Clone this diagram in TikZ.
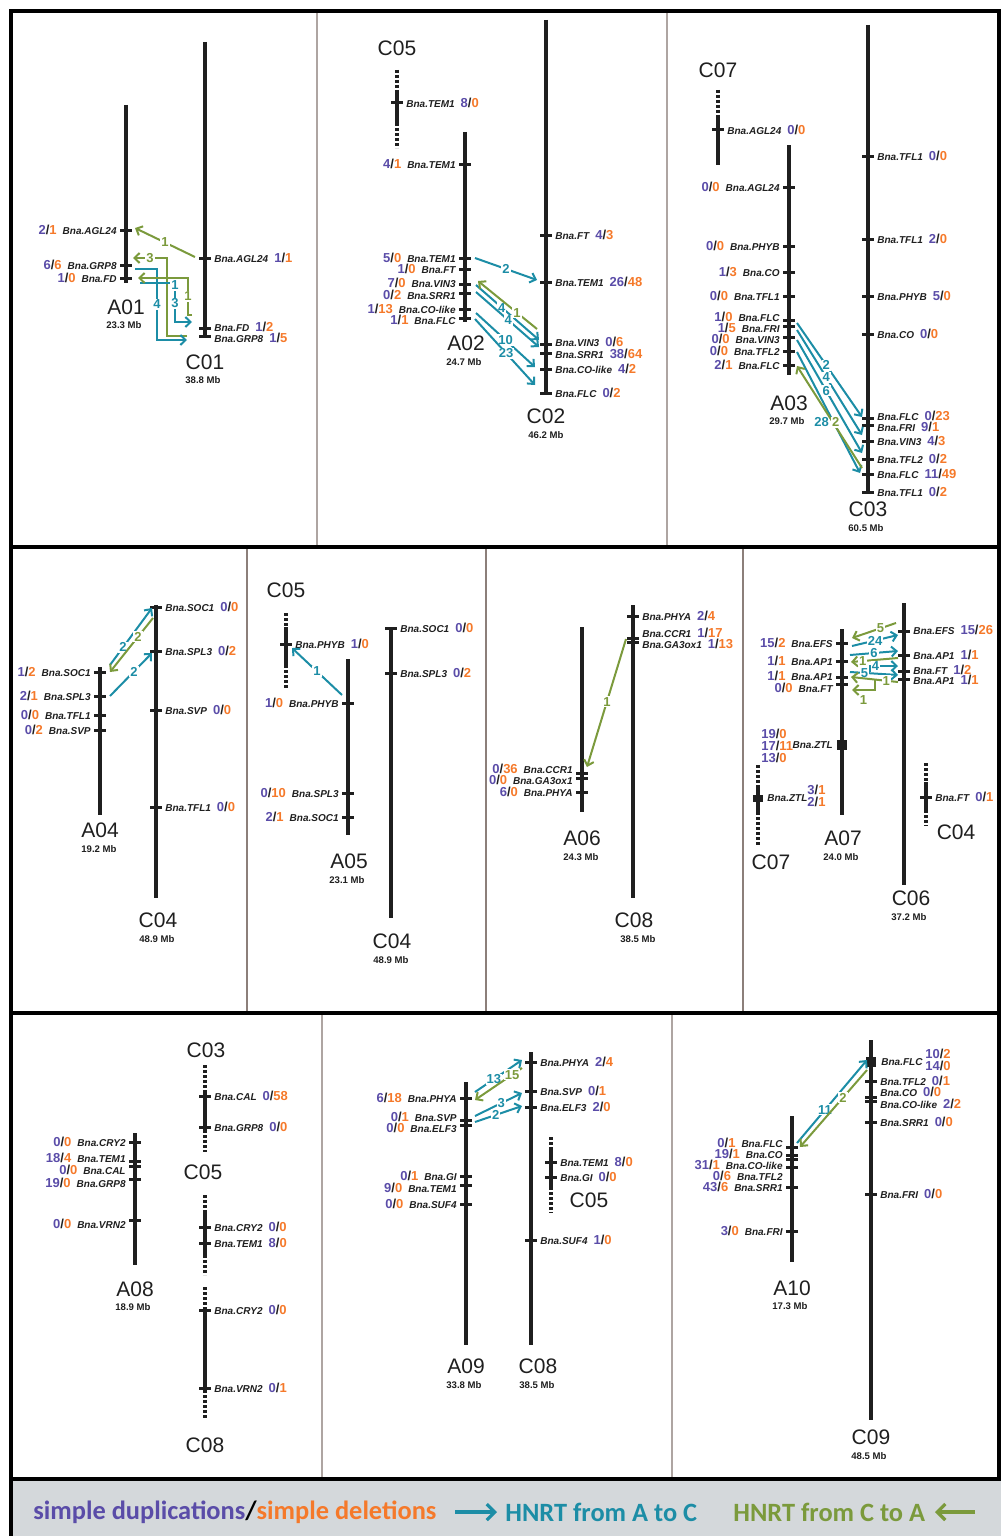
\documentclass[tikz,border=0pt]{standalone}
\usepackage{fontspec}
\setmainfont{Liberation Sans}
\newfontfamily\lgdfont{Carlito}
\usetikzlibrary{calc,arrows.meta}
\definecolor{dup}{HTML}{5A4CA8}
\definecolor{del}{HTML}{F5792A}
\definecolor{atoc}{HTML}{1C8DA6}
\definecolor{ctoa}{HTML}{7B9A3C}
\definecolor{ink}{HTML}{1F1F1F}
\definecolor{lgdbg}{HTML}{D4D8DB}
\definecolor{sep}{HTML}{8C7F7A}
\newcommand\genefont{\fontsize{5}{6}\selectfont\bfseries\itshape}
\newcommand\cntfont{\fontsize{6.5}{7}\selectfont\bfseries\upshape}
\newcommand\cnts[2]{{\cntfont\textcolor{dup}{#1}\textcolor{ink}{/}\textcolor{del}{#2}}}
\newcommand\gL[7][0]{\node[tick] (#2) at (#3,#4) {}; \node[lbl, anchor=east] (#2t) at ($(#2)+(-9,#1)$) {\cnts{#5}{#6}\hspace{3pt}Bna.#7};}
\newcommand\gR[7][0]{\node[tick] (#2) at (#3,#4) {}; \node[lbl, anchor=west] (#2t) at ($(#2)+(9,#1)$) {Bna.#7\hspace{3pt}\cnts{#5}{#6}};}

\begin{document}
\begin{tikzpicture}[x=0.5pt, y=-0.5pt,
  chr/.style={line width=2pt, draw=ink}, frag/.style={line width=2pt, draw=ink, dash pattern=on 1.3pt off 1.2pt},
  tick/.style={fill=ink, inner sep=0pt, minimum width=6pt, minimum height=1.5pt},
  blk/.style={fill=ink, inner sep=0pt, minimum width=5pt, minimum height=5pt},
  lbl/.style={font=\genefont, text=ink, inner sep=0pt},
  cname/.style={font=\fontsize{10.5}{12}\selectfont, text=ink, inner sep=0pt},
  mb/.style={font=\fontsize{4.8}{6}\selectfont\bfseries, text=ink, inner sep=0pt},
  ac/.style={draw=atoc, line width=1pt, -{Straight Barb[length=2.6pt,width=5pt]}},
  ca/.style={draw=ctoa, line width=1pt, -{Straight Barb[length=2.6pt,width=5pt]}},
  num/.style={fill=white, inner sep=0.5pt, font=\fontsize{6.5}{6.2}\selectfont\bfseries},
  anum/.style={num, text=atoc}, cnum/.style={num, text=ctoa},
  frame/.style={line width=2pt, draw=black},
  lgd/.style={font=\lgdfont\fontsize{13.2}{15}\selectfont\bfseries, inner sep=0pt}]
\useasboundingbox (0,0) rectangle (1001,1536);
\fill[lgdbg] (11,1479) rectangle (1001,1536);
\draw[sep!70, line width=1pt] (317,11) -- (317,546) (667,11) -- (667,546) (322,1013) -- (322,1479) (672,1013) -- (672,1479);
\draw[sep, line width=1pt] (247,546) -- (247,1013) (486,546) -- (486,1013) (743,546) -- (743,1013);
\draw[frame] (11,11) rectangle (999,1479); \draw[frame] (11,546.5) -- (999,546.5) (11,1013) -- (999,1013) (11,1479) -- (11,1536);

% A01 / C01
\draw[chr] (126,105) -- (126,283); \gL{a1agl}{126}{230}{2}{1}{AGL24} \gL{a1grp}{126}{265}{6}{6}{GRP8} \gL{a1fd}{126}{278}{1}{0}{FD}
\node[cname] (a01) at (126,307) {A01}; \node[mb] (a01mb) at (124,325) {23.3 Mb};
\draw[chr] (205,42) -- (205,338); \gR{c1agl}{205}{258}{1}{1}{AGL24} \gR[-1]{c1fd}{205}{328}{1}{2}{FD} \gR[2]{c1grp}{205}{336}{1}{5}{GRP8}
\node[cname] (c01) at (205,362) {C01}; \node[mb] (c01mb) at (203,380) {38.8 Mb};
\draw[ca] ($(c1agl)+(-10,-1)$) -- ($(a1agl)+(9,-2)$) node[cnum, midway] (n1a) {1};
\draw[ca] ($(c1grp)+(-18,0)$) -| ($(a1grp)+(41,-7)$) -- ($(a1grp)+(7,-7)$) node[cnum, midway] (n1b) {3};
\draw[ac] ($(a1grp)+(9,4)$) -- ++(22,0) |- ($(c1grp)+(-18,4)$) node[anum, pos=0.25] (n1c) {4};
\draw[ac] ($(a1fd)+(14,5)$) -| ($(c1fd)+(-30,-6)$) node[anum, pos=0.53] (n1d) {1} node[anum, pos=0.76] (n1dd) {3} -- ($(c1fd)+(-13,-6)$);
\draw[ca] ($(c1fd)+(-13,-13)$) -- ++(-4,0) |- ($(a1fd)+(12,0)$) node[cnum, pos=0.25] (n1e) {1};

% A02 / C02
\draw[frag] (397,70) -- (397,93); \draw[chr] (397,93) -- (397,123); \draw[frag] (397,123) -- (397,148); \gR{c5tem}{397}{103}{8}{0}{TEM1} \node[cname] (c05a) at (397,48) {C05};
\draw[chr] (465,132) -- (465,322); \gL{a2tema}{465}{164}{4}{1}{TEM1} \gL{a2temb}{465}{258}{5}{0}{TEM1} \gL{a2ft}{465}{269}{1}{0}{FT} \gL[-1]{a2vin}{465}{284}{7}{0}{VIN3} \gL[2]{a2srr}{465}{293}{0}{2}{SRR1} \gL{a2col}{465}{309}{1}{13}{CO-like} \gL[2]{a2flc}{465}{318}{1}{1}{FLC}
\node[cname] (a02) at (466,343) {A02}; \node[mb] (a02mb) at (464,362) {24.7 Mb};
\draw[chr] (546,20) -- (546,395); \gR{c2ft}{546}{235}{4}{3}{FT} \gR{c2tem}{546}{282}{26}{48}{TEM1} \gR[-2]{c2vin}{546}{344}{0}{6}{VIN3} \gR[1]{c2srr}{546}{353}{38}{64}{SRR1} \gR{c2col}{546}{369}{4}{2}{CO-like} \gR{c2flc}{546}{393}{0}{2}{FLC}
\node[cname] (c02) at (546,416) {C02}; \node[mb] (c02mb) at (546,435) {46.2 Mb};
\draw[ac] ($(a2temb)+(10,0)$) -- ($(c2tem)+(-9,-2)$) node[anum, midway] (n2a) {2};
\draw[ac] ($(a2vin)+(11,1)$) -- ($(c2vin)+(-7,-4)$) node[anum, pos=0.41] (n2b) {4};
\draw[ac] ($(a2srr)+(11,-1)$) -- ($(c2srr)+(-7,-6)$) node[anum, pos=0.51] (n2c) {4};
\draw[ca] ($(c2vin)+(-9,-15)$) -- ($(a2vin)+(13,-3)$) node[cnum, pos=0.34] (n2d) {1};
\draw[ac] ($(a2col)+(11,4)$) -- ($(c2col)+(-11,-2)$) node[anum, midway] (n2e) {10};
\draw[ac] ($(a2flc)+(10,1)$) -- ($(c2flc)+(-11,-8)$) node[anum, pos=0.52] (n2f) {23};

% A03 / C03
\draw[frag] (718,90) -- (718,118); \draw[chr] (718,118) -- (718,165); \gR{c7agl}{718}{130}{0}{0}{AGL24} \node[cname] (c07a) at (718,70) {C07};
\draw[chr] (789,145) -- (789,375); \gL{a3agl}{789}{187}{0}{0}{AGL24} \gL{a3phyb}{789}{246}{0}{0}{PHYB} \gL{a3co}{789}{272}{1}{3}{CO} \gL{a3tfl}{789}{296}{0}{0}{TFL1} \gL[-3]{a3flca}{789}{320}{1}{0}{FLC} \gL[2]{a3fri}{789}{326}{1}{5}{FRI} \gL[2]{a3vin}{789}{337}{0}{0}{VIN3} \gL{a3tfl2}{789}{351}{0}{0}{TFL2} \gL{a3flcb}{789}{365}{2}{1}{FLC}
\node[cname] (a03) at (789,403) {A03}; \node[mb] (a03mb) at (787,421) {29.7 Mb};
\draw[chr] (868,25) -- (868,492); \gR{c3tfa}{868}{156}{0}{0}{TFL1} \gR{c3tfb}{868}{239}{2}{0}{TFL1} \gR{c3phyb}{868}{296}{5}{0}{PHYB} \gR{c3co}{868}{334}{0}{0}{CO} \gR[-2]{c3flca}{868}{418}{0}{23}{FLC} \gR[2]{c3fri}{868}{425}{9}{1}{FRI} \gR{c3vin}{868}{441}{4}{3}{VIN3} \gR{c3tfl2}{868}{459}{0}{2}{TFL2} \gR{c3flcb}{868}{474}{11}{49}{FLC} \gR{c3tfc}{868}{492}{0}{2}{TFL1}
\node[cname] (c03) at (868,509) {C03}; \node[mb] (c03mb) at (866,528) {60.5 Mb};
\draw[ac] ($(a3flca)+(8,3)$) -- ($(c3flca)+(-6,-1)$) node[anum, pos=0.45] (n3a) {2};
\draw[ac] ($(a3fri)+(8,4)$) -- ($(c3vin)+(-6,-6)$) node[anum, pos=0.45] (n3b) {4};
\draw[ac] ($(a3vin)+(8,3)$) -- ($(c3tfl2)+(-6,-6)$) node[anum, pos=0.45] (n3c) {6};
\draw[ac] ($(a3tfl2)+(8,1)$) -- ($(c3flcb)+(-8,-1)$) node[anum, pos=0.58, xshift=-6pt] (n3d) {28};
\draw[ca] ($(c3flcb)+(-6,-6)$) -- ($(a3flcb)+(8,1)$) node[cnum, pos=0.45, xshift=1.5pt] (n3e) {2};

% A04 / C04
\draw[chr] (100,667) -- (100,815); \gL{a4soc}{100}{672}{1}{2}{SOC1} \gL{a4spl}{100}{696}{2}{1}{SPL3} \gL{a4tfl}{100}{715}{0}{0}{TFL1} \gL{a4svp}{100}{730}{0}{2}{SVP}
\node[cname] (a04) at (100,830) {A04}; \node[mb] (a04mb) at (99,849) {19.2 Mb};
\draw[chr] (156,605) -- (156,898); \gR{c4soc}{156}{607}{0}{0}{SOC1} \gR{c4spl}{156}{651}{0}{2}{SPL3} \gR{c4svp}{156}{710}{0}{0}{SVP} \gR{c4tfl}{156}{807}{0}{0}{TFL1}
\node[cname] (c04a) at (158,920) {C04}; \node[mb] (c04amb) at (157,939) {48.9 Mb};
\draw[ac] ($(a4soc)+(10,-7)$) -- ($(c4soc)+(-4,1)$) node[anum, pos=0.31] (n4a) {2};
\draw[ca] ($(c4soc)+(-3,11)$) -- ($(a4soc)+(10,0)$) node[cnum, pos=0.35] (n4b) {2};
\draw[ac] ($(a4spl)+(10,0)$) -- ($(c4spl)+(-4,2)$) node[anum, pos=0.57] (n4c) {2};

% A05 / C04
\draw[frag] (286,613) -- (286,627); \draw[chr] (286,627) -- (286,665); \draw[frag] (286,665) -- (286,689); \gR{c5phyb}{286}{644}{1}{0}{PHYB} \node[cname] (c05b) at (286,590) {C05};
\draw[chr] (348,659) -- (348,835); \gL{a5phyb}{348}{703}{1}{0}{PHYB} \gL{a5spl}{348}{793}{0}{10}{SPL3} \gL{a5soc}{348}{817}{2}{1}{SOC1}
\node[cname] (a05) at (349,861) {A05}; \node[mb] (a05mb) at (347,880) {23.1 Mb};
\draw[chr] (391,627) -- (391,918); \gR{c4bsoc}{391}{628}{0}{0}{SOC1} \gR{c4bspl}{391}{673}{0}{2}{SPL3}
\node[cname] (c04b) at (392,941) {C04}; \node[mb] (c04bmb) at (391,960) {48.9 Mb};
\draw[ac] ($(a5phyb)+(-6,-8)$) -- ($(c5phyb)+(6,4)$) node[anum, midway] (n5a) {1};

% A06 / C08
\draw[chr] (582,627) -- (582,812); \gL[-4]{a6ccr}{582}{773}{0}{36}{CCR1} \gL[2]{a6ga}{582}{778}{0}{0}{GA3ox1} \gL{a6phya}{582}{792}{6}{0}{PHYA}
\node[cname] (a06) at (582,838) {A06}; \node[mb] (a06mb) at (581,857) {24.3 Mb};
\draw[chr] (633,605) -- (633,898); \gR{c8phya}{633}{616}{2}{4}{PHYA} \gR[-5]{c8ccr}{633}{638}{1}{17}{CCR1} \gR[2]{c8ga}{633}{642}{1}{13}{GA3ox1}
\node[cname] (c08a) at (634,920) {C08}; \node[mb] (c08amb) at (638,939) {38.5 Mb};
\draw[ca] ($(c8ccr)+(-7,1)$) -- ($(a6ccr)+(5,-6)$) node[cnum, pos=0.49] (n6a) {1};

% A07 / C06
\draw[chr] (842,629) -- (842,815); \gL{a7efs}{842}{643}{15}{2}{EFS} \gL{a7apa}{842}{661}{1}{1}{AP1} \gL[-1]{a7apb}{842}{677}{1}{1}{AP1} \gL[4]{a7ft}{842}{684}{0}{0}{FT}
\node[blk] (a7ztl) at (842,745) {}; \node[lbl, anchor=east] (a7ztlt) at ($(a7ztl)+(-9,0)$) {Bna.ZTL};
\node[lbl, anchor=west, align=left] (a7ztlc) at (761,746) {\cnts{19}{0}\\\cnts{17}{11}\\\cnts{13}{0}};
\node[cname] (a07) at (843,838) {A07}; \node[mb] (a07mb) at (841,857) {24.0 Mb};
\draw[chr] (904,603) -- (904,885); \gR[-1]{c6efs}{904}{631}{15}{26}{EFS} \gR{c6apa}{904}{655}{1}{1}{AP1} \gR[-1]{c6ft}{904}{671}{1}{2}{FT} \gR[1]{c6apb}{904}{679}{1}{1}{AP1}
\node[cname] (c06) at (911,898) {C06}; \node[mb] (c06mb) at (909,917) {37.2 Mb};
\draw[frag] (758,765) -- (758,785); \draw[chr] (758,785) -- (758,812); \draw[frag] (758,812) -- (758,845);
\node[blk, minimum height=3.5pt] (c7ztl) at (758,798) {}; \node[lbl, anchor=west] (c7ztlt) at ($(c7ztl)+(9,0)$) {Bna.ZTL};
\node[lbl, anchor=west, align=left] (c7ztlc) at (807,796) {\cnts{3}{1}\\\cnts{2}{1}}; \node[cname] (c07b) at (771,862) {C07};
\draw[frag] (926,763) -- (926,782); \draw[chr] (926,782) -- (926,810); \draw[frag] (926,810) -- (926,826); \gR{c4cft}{926}{797}{0}{1}{FT} \node[cname] (c04c) at (956,832) {C04};
\draw[ca] ($(c6efs)+(-8,-8)$) -- ($(a7efs)+(10,-5)$) node[cnum, pos=0.35] (n7a) {5};
\draw[ac] ($(a7efs)+(10,3)$) -- ($(c6efs)+(-6,4)$) node[anum, pos=0.5] (n7b) {24};
\draw[ac] ($(a7apa)+(8,-6)$) -- ($(c6apa)+(-6,-4)$) node[anum, midway] (n7c) {6};
\draw[ca] ($(c6apa)+(-6,3)$) -- ($(a7apa)+(9,1)$) node[cnum, pos=0.75] (n7d) {1};
\draw[ac] ($(a7apb)+(8,-5)$) -- ($(c6ft)+(-6,4)$) node[anum, pos=0.3] (n7e) {5};
\draw[ac] ($(a7apb)+(28,-5)$) |- ($(c6apa)+(-20,11)$) node[anum, pos=0.7] (n7f) {4} -- ($(c6apa)+(-6,11)$);
\draw[ca] ($(c6apb)+(-6,3)$) -- ($(a7apb)+(9,0)$) node[cnum, pos=0.25] (n7g) {1};
\draw[ca] ($(a7ft)+(33,-4)$) |- ($(a7ft)+(10,6)$) node[cnum, pos=0.75, yshift=-5pt] (n7h) {1};

% A08 / C03, C05, C08
\draw[chr] (135,1133) -- (135,1265); \gL{a8cry}{135}{1142}{0}{0}{CRY2} \gL[-3]{a8tem}{135}{1161}{18}{4}{TEM1} \gL[4]{a8cal}{135}{1166}{0}{0}{CAL} \gL[4]{a8grp}{135}{1179}{19}{0}{GRP8} \gL[4]{a8vrn}{135}{1220}{0}{0}{VRN2}
\node[cname] (a08) at (135,1289) {A08}; \node[mb] (a08mb) at (133,1307) {18.9 Mb};
\draw[frag] (205,1065) -- (205,1092); \draw[chr] (205,1092) -- (205,1130); \draw[frag] (205,1130) -- (205,1152); \gR{c3cal}{205}{1096}{0}{58}{CAL} \gR{c3grp}{205}{1127}{0}{0}{GRP8}
\node[cname] (c03b) at (206,1050) {C03}; \node[cname] (c05c) at (203,1172) {C05};
\draw[frag] (205,1195) -- (205,1213); \draw[chr] (205,1213) -- (205,1255); \draw[frag] (205,1255) -- (205,1275); \gR{c5cry}{205}{1227}{0}{0}{CRY2} \gR{c5temc}{205}{1243}{8}{0}{TEM1}
\draw[frag] (205,1287) -- (205,1307); \draw[chr] (205,1307) -- (205,1390); \draw[frag] (205,1390) -- (205,1418); \gR{c8cry}{205}{1310}{0}{0}{CRY2} \gR{c8vrn}{205}{1388}{0}{1}{VRN2}
\node[cname] (c08b) at (205,1445) {C08};

% A09 / C08
\draw[chr] (466,1082) -- (466,1345); \gL{a9phya}{466}{1098}{6}{18}{PHYA} \gL[-3]{a9svp}{466}{1120}{0}{1}{SVP} \gL[3]{a9elf}{466}{1125}{0}{0}{ELF3} \gL{a9gi}{466}{1176}{0}{1}{GI} \gL[3]{a9tem}{466}{1185}{9}{0}{TEM1} \gL{a9suf}{466}{1204}{0}{0}{SUF4}
\node[cname] (a09) at (466,1366) {A09}; \node[mb] (a09mb) at (464,1385) {33.8 Mb};
\draw[chr] (531,1052) -- (531,1345); \gR{c8bphya}{531}{1062}{2}{4}{PHYA} \gR{c8bsvp}{531}{1091}{0}{1}{SVP} \gR{c8belf}{531}{1107}{2}{0}{ELF3} \gR{c8bsuf}{531}{1240}{1}{0}{SUF4}
\node[cname] (c08c) at (538,1366) {C08}; \node[mb] (c08cmb) at (537,1385) {38.5 Mb};
\draw[frag] (551,1137) -- (551,1150); \draw[chr] (551,1150) -- (551,1187); \draw[frag] (551,1187) -- (551,1213); \gR{c5gtem}{551}{1162}{8}{0}{TEM1} \gR{c5ggi}{551}{1177}{0}{0}{GI}
\node[cname] (c05d) at (589,1200) {C05};
\draw[ac] ($(a9phya)+(9,-6)$) -- ($(c8bphya)+(-9,-2)$) node[anum, pos=0.4] (n9a) {13};
\draw[ca] ($(c8bphya)+(-9,6)$) -- ($(a9phya)+(9,2)$) node[cnum, pos=0.21] (n9b) {15};
\draw[ac] ($(a9svp)+(9,-4)$) -- ($(c8bsvp)+(-9,2)$) node[anum, pos=0.56] (n9c) {3};
\draw[ac] ($(a9elf)+(9,-3)$) -- ($(c8belf)+(-9,-1)$) node[anum, pos=0.44] (n9d) {2};

% A10 / C09
\draw[chr] (792,1116) -- (792,1262); \gL[-4]{a10flc}{792}{1147}{0}{1}{FLC} \gL[-1]{a10co}{792}{1155}{19}{1}{CO} \node[tick] (a10cob) at (792,1159) {}; \gL[-2]{a10col}{792}{1167}{31}{1}{CO-like}
\node[lbl, anchor=east] (a10tflt) at (783,1176) {\cnts{0}{6}\hspace{3pt}Bna.TFL2}; \gL{a10srr}{792}{1187}{43}{6}{SRR1} \gL{a10fri}{792}{1231}{3}{0}{FRI}
\node[cname] (a10) at (792,1288) {A10}; \node[mb] (a10mb) at (790,1306) {17.3 Mb};
\draw[chr] (871,1040) -- (871,1420); \node[blk] (c9flc) at (871,1062) {}; \node[lbl, anchor=west] (c9flct) at ($(c9flc)+(10,0)$) {Bna.FLC};
\node[lbl, anchor=west, align=left] (c9flcc) at (925,1060) {\cnts{10}{2}\\\cnts{14}{0}};
\gR{c9tfl}{871}{1081}{0}{1}{TFL2} \gR[-5]{c9co}{871}{1097}{0}{0}{CO} \gR[3]{c9col}{871}{1101}{2}{2}{CO-like} \gR{c9srr}{871}{1122}{0}{0}{SRR1} \gR{c9fri}{871}{1194}{0}{0}{FRI}
\node[cname] (c09) at (871,1437) {C09}; \node[mb] (c09mb) at (869,1456) {48.5 Mb};
\draw[ac] ($(a10flc)+(5,-4)$) -- ($(c9flc)+(-4,-2)$) node[anum, pos=0.4] (n10a) {11};
\draw[ca] ($(c9flc)+(-4,8)$) -- ($(a10flc)+(8,0)$) node[cnum, pos=0.36] (n10b) {2};

% legend
\node[lgd, anchor=west] (lgdup) at (33,1512) {\textcolor{dup}{simple duplications}\textcolor{black}{/}\textcolor{del}{simple deletions}};
\coordinate (la1) at (455,1512); \coordinate (la2) at (497,1512); \draw[ac, line width=1.6pt, -{Straight Barb[length=4pt,width=8pt]}] (la1) -- (la2);
\node[lgd, text=atoc, anchor=west] (lgac) at (505,1512) {HNRT from A to C};
\node[lgd, text=ctoa, anchor=west] (lgca) at (733,1512) {HNRT from C to A};
\coordinate (lc1) at (975,1512); \coordinate (lc2) at (935,1512); \draw[ca, line width=1.6pt, -{Straight Barb[length=4pt,width=8pt]}] (lc1) -- (lc2);
\end{tikzpicture}
\end{document}
